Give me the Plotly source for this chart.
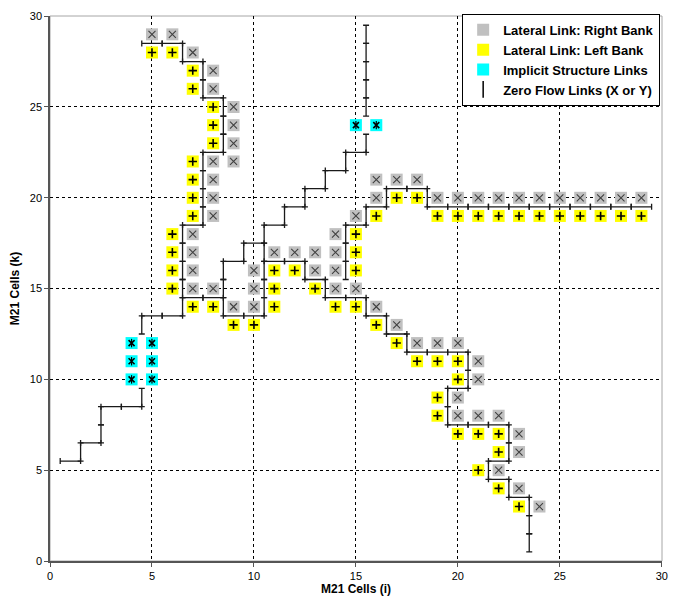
import plotly.graph_objects as go

# ---- data (cell indices) ----
right_x = [5, 6, 7, 8, 8, 9, 9, 9, 8, 9, 8, 8, 8, 7, 7, 7, 7, 8, 9, 10, 10, 10,
           11, 12, 13, 13, 14, 14, 15, 14, 14, 15, 16, 16, 17, 18,
           19, 20, 21, 22, 23, 24, 25, 26, 27, 28, 29,
           16, 17, 18, 19, 20, 21, 21, 20, 20, 21, 22, 23, 23, 22, 23, 24]
right_y = [29, 29, 28, 27, 26, 25, 24, 23, 22, 22, 21, 20, 19, 18, 17, 16, 15, 15, 14, 14, 15, 16,
           17, 17, 17, 16, 16, 15, 15, 17, 18, 19, 20, 21, 21, 21,
           20, 20, 20, 20, 20, 20, 20, 20, 20, 20, 20,
           14, 13, 12, 12, 12, 11, 10, 9, 8, 8, 8, 7, 6, 5, 4, 3]

left_x = [5, 6, 7, 7, 8, 8, 8, 7, 7, 7, 7, 6, 6, 6, 6, 7, 8, 9, 10,
          11, 11, 11, 12, 13, 14, 15, 15, 15, 15, 16, 17, 18,
          19, 20, 21, 22, 23, 24, 25, 26, 27, 28, 29,
          16, 17, 18, 19, 20, 20, 19, 19, 20, 21, 22, 22, 21, 22, 23]
left_y = [28, 28, 27, 26, 25, 24, 23, 22, 21, 20, 19, 18, 17, 16, 15, 14, 14, 13, 13,
          16, 15, 14, 16, 15, 14, 14, 16, 17, 18, 19, 20, 20,
          19, 19, 19, 19, 19, 19, 19, 19, 19, 19, 19,
          13, 12, 11, 11, 11, 10, 9, 8, 7, 7, 7, 6, 5, 4, 3]

struct_x = [4, 4, 4, 5, 5, 5, 15, 16]
struct_y = [10, 11, 12, 10, 11, 12, 24, 24]

# zero-flow links along cell faces: horizontal ones (centre points)
hlink_x = [5, 6, 7, 8, 8, 7, 7, 8, 9, 10, 9, 10, 11, 12, 13, 14, 15,
           1, 2, 3, 4, 5, 6,
           11, 12, 13, 14, 15, 15, 16, 17, 18,
           19, 20, 21, 22, 23, 24, 25, 26, 27, 28, 29,
           16, 17, 18, 19, 20, 20, 20, 21, 22, 22, 22, 23]
hlink_y = [28.5, 28.5, 27.5, 25.5, 22.5, 18.5, 14.5, 14.5, 13.5, 13.5, 16.5, 17.5, 18.5, 19.5, 20.5, 21.5, 22.5,
           5.5, 6.5, 8.5, 8.5, 13.5, 13.5,
           16.5, 16.5, 15.5, 14.5, 14.5, 18.5, 19.5, 20.5, 20.5,
           19.5, 19.5, 19.5, 19.5, 19.5, 19.5, 19.5, 19.5, 19.5, 19.5, 19.5,
           13.5, 12.5, 11.5, 11.5, 11.5, 9.5, 7.5, 7.5, 7.5, 5.5, 4.5, 3.5]

# vertical ones (centre points)
vlink_x = [6.5, 7.5, 7.5, 8.5, 8.5, 8.5, 7.5, 7.5, 7.5, 7.5,
           6.5, 6.5, 6.5, 6.5, 6.5, 8.5, 8.5, 8.5, 9.5,
           10.5, 10.5, 10.5, 10.5, 10.5, 11.5, 12.5, 13.5, 14.5, 15.5,
           15.5, 15.5, 15.5, 15.5, 15.5,
           1.5, 2.5, 2.5, 4.5, 4.5,
           12.5, 13.5, 14.5, 14.5, 14.5, 15.5, 16.5, 18.5,
           15.5, 16.5, 17.5, 20.5, 20.5, 19.5, 19.5, 22.5, 22.5, 21.5, 22.5,
           23.5, 23.5, 23.5]
vlink_y = [28, 27, 26, 25, 24, 23, 22, 21, 20, 19,
           18, 17, 16, 15, 14, 16, 15, 14, 17,
           18, 17, 16, 15, 14, 19, 20, 21, 22, 23,
           25, 26, 27, 28, 29,
           6, 7, 8, 9, 13,
           16, 15, 18, 17, 16, 19, 20, 20,
           14, 13, 12, 11, 10, 9, 8, 7, 6, 5, 4,
           3, 2, 1]

axis_ticks = [0, 5, 10, 15, 20, 25, 30]

FONT = "Liberation Sans, Arial, sans-serif"
half = 0.5

fig = go.Figure()

# zero flow links drawn as error bars
fig.add_trace(go.Scatter(
    x=hlink_x, y=hlink_y, mode="markers", showlegend=False, hoverinfo="skip",
    marker=dict(size=1, opacity=0),
    error_x=dict(type="constant", value=half, color="#1a1a1a", thickness=1.3, width=3),
))
fig.add_trace(go.Scatter(
    x=vlink_x, y=vlink_y, mode="markers", showlegend=False, hoverinfo="skip",
    marker=dict(size=1, opacity=0),
    error_y=dict(type="constant", value=half, color="#1a1a1a", thickness=1.3, width=3),
))

# right bank
fig.add_trace(go.Scatter(
    x=right_x, y=right_y, mode="markers", name="Lateral Link: Right Bank",
    marker=dict(symbol="square", size=12, color="#c0c0c0", line=dict(width=0)),
))
fig.add_trace(go.Scatter(
    x=right_x, y=right_y, mode="markers", showlegend=False, hoverinfo="skip",
    marker=dict(symbol="x-thin", size=7, line=dict(width=1.1, color="#404040")),
))
# left bank
fig.add_trace(go.Scatter(
    x=left_x, y=left_y, mode="markers", name="Lateral Link: Left Bank",
    marker=dict(symbol="square", size=12, color="#ffff00", line=dict(width=0)),
))
fig.add_trace(go.Scatter(
    x=left_x, y=left_y, mode="markers", showlegend=False, hoverinfo="skip",
    marker=dict(symbol="cross-thin", size=6, line=dict(width=1.6, color="#000000")),
))
# implicit structure
fig.add_trace(go.Scatter(
    x=struct_x, y=struct_y, mode="markers", name="Implicit Structure Links",
    marker=dict(symbol="square", size=12, color="#00ffff", line=dict(width=0)),
))
fig.add_trace(go.Scatter(
    x=struct_x, y=struct_y, mode="markers", showlegend=False, hoverinfo="skip",
    marker=dict(symbol="x-thin", size=6, line=dict(width=1.6, color="#000000")),
))
fig.add_trace(go.Scatter(
    x=struct_x, y=struct_y, mode="markers", showlegend=False, hoverinfo="skip",
    marker=dict(symbol="line-ns", size=6, line=dict(width=1.2, color="#000000")),
))
# legend entry for zero-flow links
fig.add_trace(go.Scatter(
    x=[None], y=[None], mode="markers", name="Zero Flow Links (X or Y)",
    marker=dict(symbol="line-ns", size=12, line=dict(width=1.5, color="#000000")),
))

axis_common = dict(
    range=[0, 30.01], tickvals=axis_ticks, ticks="outside", ticklen=4, tickcolor="#555555",
    showline=True, linecolor="#555555", linewidth=1.5,
    showgrid=True, gridcolor="#000000", gridwidth=1, griddash="3px,3px",
    zeroline=False, tickfont=dict(family=FONT, size=11, color="#000000"),
)

fig.update_xaxes(**axis_common, ticklabeloverflow="allow",
                 title=dict(text="M21 Cells (i)", standoff=3,
                            font=dict(family=FONT, size=12, color="#000000", weight="bold")))
fig.update_yaxes(**axis_common,
                 title=dict(text="M21 Cells (k)", standoff=10,
                            font=dict(family=FONT, size=12, color="#000000", weight="bold")))

# light plot-area frame (top / right edges)
fig.add_shape(type="rect", xref="paper", yref="paper", x0=0, y0=0, x1=1, y1=1,
              line=dict(color="#a6a6a6", width=1), layer="below")

fig.update_layout(
    width=662, height=588,
    margin=dict(l=42, r=2, t=6, b=35),
    plot_bgcolor="#ffffff", paper_bgcolor="#ffffff",
    font=dict(family=FONT, color="#000000"),
    legend=dict(
        x=0.997, y=1.004, xanchor="right", yanchor="top",
        bgcolor="#ffffff", bordercolor="#000000", borderwidth=1,
        font=dict(family=FONT, size=13, color="#000000", weight="bold"),
        tracegroupgap=0, itemwidth=30,
    ),
)

fig.write_html("out.html")
